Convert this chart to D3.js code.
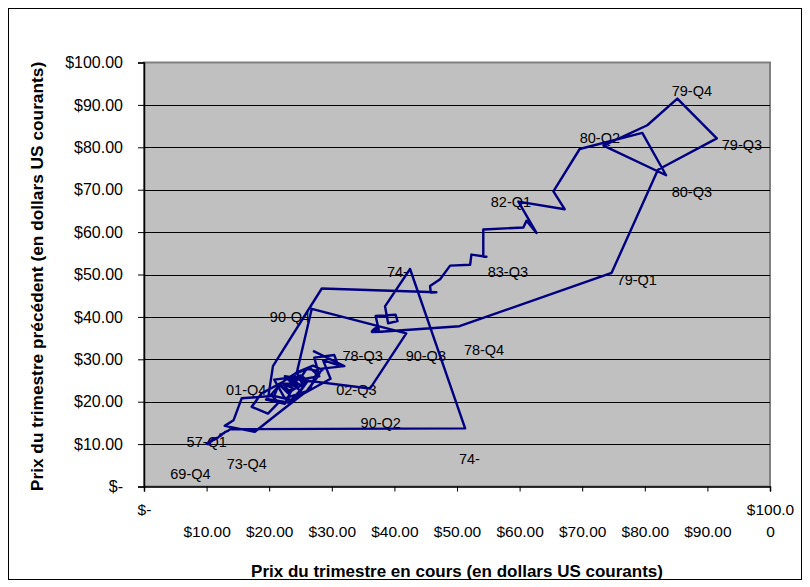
<!DOCTYPE html>
<html>
<head>
<meta charset="utf-8">
<script src="https://cdn.jsdelivr.net/npm/d3@7"></script>
<style>
  html, body { margin: 0; padding: 0; background: #fff; }
  svg { display: block; }
  text { font-family: "Liberation Sans", Arial, sans-serif; fill: #000; }
</style>
</head>
<body>
<svg id="chart" width="810" height="587"></svg>
<script>
// Quarterly oil price series (starting with the quarter before 1957-Q1).
// Each plotted point = (price of the quarter, price of the previous quarter).
const prices = [
  10.2,
  10.0, 10.5, 10.6, 10.4,   // 57
  10.3, 10.2, 10.2, 10.1,   // 58
  10.0, 10.1, 10.0, 10.2,   // 59
  10.3, 10.2, 10.1, 10.2,   // 60
  10.4, 10.3, 10.2, 10.3,   // 61
  10.4, 10.5, 10.4, 10.3,   // 62
  10.5, 10.4, 10.5, 10.6,   // 63
  10.5, 10.6, 10.7, 10.6,   // 64
  10.7, 10.8, 10.7, 10.8,   // 65
  10.9, 10.8, 10.9, 11.0,   // 66
  10.9, 11.0, 11.1, 11.0,   // 67
  11.1, 11.0, 11.2, 11.1,   // 68
  11.0, 11.2, 11.1, 11.0,   // 69
  11.2, 11.4, 11.5, 11.8,   // 70
  12.0, 12.3, 12.2, 12.4,   // 71
  12.5, 12.6, 12.8, 12.9,   // 72
  13.0, 13.2, 13.5, 13.7,   // 73
  51.3, 42.5, 38.5, 39.0,   // 74
  40.5, 40.2, 37.0, 37.5,   // 75
  37.2, 36.8, 36.9, 37.1,   // 76
  36.7, 36.6, 36.8, 36.5,   // 77
  36.4, 36.5, 37.8, 50.4,   // 78
  74.7, 82.1, 91.5, 85.2,   // 79
  80.4, 73.4, 83.4, 79.6,   // 80
  69.6, 65.4, 67.2, 59.8,   // 81
  62.7, 61.1, 60.6, 54.2,   // 82
  54.2, 54.7, 52.3, 52.1,   // 83
  48.9, 47.3, 45.7, 45.8,   // 84
  46.7, 28.4, 20.6, 19.8,
  23.0, 26.5, 27.5, 28.5,
  27.0, 24.5, 22.0, 18.8,
  17.2, 19.8, 21.5, 20.4,
  23.5, 25.5, 23.1, 36.1,
  41.9, 26.8, 24.4, 25.2,
  26.0, 22.5, 25.0, 26.2,
  25.0, 23.5, 24.5, 22.0,
  20.5, 19.5, 22.5, 23.5,
  22.0, 23.0, 24.0, 22.5,
  23.0, 24.0, 25.5, 26.0,
  28.0, 26.5, 24.0, 24.5,
  23.5, 21.4, 20.8, 15.6,
  14.3, 12.9, 17.7, 21.8,
  25.4, 29.8, 28.6, 31.0,
  30.4, 27.2, 27.8, 26.0,
  25.2, 20.8, 22.5, 26.0,
  27.8, 28.4, 32.0, 27.0
];

// Quarter labels drawn on the chart, with their anchor (in dollars)
const labelTexts = ["79-Q4","79-Q3","80-Q2","80-Q3","82-Q1","83-Q3","79-Q1","74-","90-Q4","78-Q3","90-Q3","78-Q4","01-Q4","02-Q3","90-Q2","57-Q1","73-Q4","69-Q4","74-"];
const labelX = [84.3, 92.3, 69.6, 84.3, 55.4, 54.9, 75.5, 38.8, 20.1, 31.7, 41.8, 51.1, 13.1, 30.7, 34.6, 6.8, 13.2, 4.2, 50.3];
const labelY = [93.4, 80.5, 82.1, 69.5, 67.1, 50.6, 48.7, 50.6, 39.9, 30.9, 30.9, 32.2, 22.7, 22.7, 14.9, 10.5, 5.4, 3.0, 6.5];

const yTickValues = [0, 10, 20, 30, 40, 50, 60, 70, 80, 90, 100];
const yTickLabels = ["$-", "$10.00", "$20.00", "$30.00", "$40.00", "$50.00", "$60.00", "$70.00", "$80.00", "$90.00", "$100.00"];
const xTickValues = [0, 10, 20, 30, 40, 50, 60, 70, 80, 90, 100];
const xTickLabelsLine1 = ["$-", "", "", "", "", "", "", "", "", "", "$100.0"];
const xTickLabelsLine2 = ["", "$10.00", "$20.00", "$30.00", "$40.00", "$50.00", "$60.00", "$70.00", "$80.00", "$90.00", "0"];

const xTitle = "Prix du trimestre en cours (en dollars US courants)";
const yTitle = "Prix du trimestre précédent (en dollars US courants)";

const svg = d3.select("#chart");
const W = 810, H = 587;
const plot = { left: 144, top: 62.5, right: 770, bottom: 486.5 };

svg.append("rect").attr("width", W).attr("height", H).attr("fill", "#fff");
svg.append("rect").attr("x", 8.5).attr("y", 8.5).attr("width", 793).attr("height", 571)
  .attr("fill", "none").attr("stroke", "#000").attr("stroke-width", 1);

const x = d3.scaleLinear().domain([0, 100]).range([plot.left, plot.right]);
const y = d3.scaleLinear().domain([0, 100]).range([plot.bottom, plot.top]);

// plot area
svg.append("rect")
  .attr("x", plot.left).attr("y", plot.top)
  .attr("width", plot.right - plot.left).attr("height", plot.bottom - plot.top)
  .attr("fill", "#C0C0C0").attr("stroke", "#808080").attr("stroke-width", 2);

// data labels (under gridlines and line)
svg.append("g").selectAll("text").data(labelTexts).join("text")
  .attr("x", (d, i) => x(labelX[i]))
  .attr("y", (d, i) => y(labelY[i]))
  .attr("dy", "0.35em")
  .attr("font-size", 14.5)
  .text(d => d);

// gridlines
svg.append("g").selectAll("line").data(yTickValues.filter(v => v > 0 && v < 100)).join("line")
  .attr("x1", plot.left).attr("x2", plot.right)
  .attr("y1", d => Math.round(y(d)) + 0.5).attr("y2", d => Math.round(y(d)) + 0.5)
  .attr("stroke", "#000").attr("stroke-width", 1);

// axes
const yAxis = d3.axisLeft(y).tickValues(yTickValues).tickSize(6)
  .tickFormat((d, i) => yTickLabels[i]).tickPadding(15);
const gy = svg.append("g").attr("transform", `translate(${plot.left},0)`).call(yAxis);
gy.select(".domain").attr("stroke", "#000").attr("stroke-width", 1.5);
gy.selectAll(".tick line").attr("stroke", "#000");
gy.selectAll(".tick text").attr("font-size", 16).attr("font-family", "Liberation Sans, Arial, sans-serif").attr("fill", "#000");

const xAxis = d3.axisBottom(x).tickValues(xTickValues).tickSize(5).tickFormat("");
const gx = svg.append("g").attr("transform", `translate(0,${plot.bottom})`).call(xAxis);
gx.select(".domain").attr("stroke", "#000").attr("stroke-width", 1.5);
gx.selectAll(".tick line").attr("stroke", "#000");
gx.selectAll(".tick").each(function(d, i) {
  const g = d3.select(this);
  g.append("text").attr("y", 23).attr("dy", "0.35em").attr("text-anchor", "middle")
    .attr("font-size", 15.5).text(xTickLabelsLine1[i]);
  g.append("text").attr("y", 45).attr("dy", "0.35em").attr("text-anchor", "middle")
    .attr("font-size", 15.5).text(xTickLabelsLine2[i]);
});

// path
const points = prices.slice(1).map((p, i) => [p, prices[i]]);
const line = d3.line().x(d => x(d[0])).y(d => y(d[1]));
svg.append("path").datum(points)
  .attr("d", line)
  .attr("fill", "none")
  .attr("stroke", "#000080")
  .attr("stroke-width", 2.4)
  .attr("stroke-linejoin", "round");

// titles
svg.append("text")
  .attr("x", (plot.left + plot.right) / 2).attr("y", 571).attr("dy", "0.35em")
  .attr("text-anchor", "middle").attr("font-weight", "bold").attr("font-size", 17)
  .text(xTitle);
svg.append("text")
  .attr("transform", `translate(37,${(plot.top + plot.bottom) / 2 + 2}) rotate(-90)`)
  .attr("dy", "0.35em")
  .attr("text-anchor", "middle").attr("font-weight", "bold").attr("font-size", 17.3)
  .text(yTitle);
</script>
</body>
</html>
